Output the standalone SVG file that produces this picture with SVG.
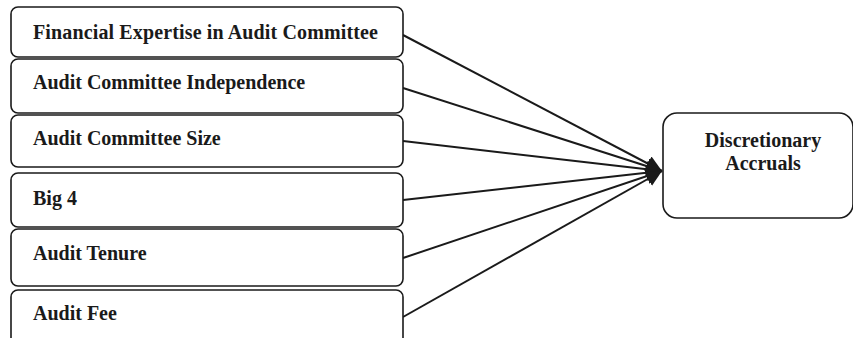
<svg xmlns="http://www.w3.org/2000/svg" width="853" height="338" viewBox="0 0 853 338">
<style>
.box{fill:#fff;stroke:#1a1a1a;stroke-width:1.6}
.lbl{font-family:"Liberation Serif","Times New Roman",serif;font-weight:bold;font-size:20px;fill:#1a1a1a}
.edge{stroke:#1a1a1a;stroke-width:2;fill:none;marker-end:url(#ah)}
</style>
<defs>
<marker id="ah" viewBox="0 0 10 10" refX="10" refY="5" markerWidth="8" markerHeight="8" markerUnits="strokeWidth" orient="auto">
<path d="M0,0 L10,5 L0,10 z" fill="#1a1a1a"/>
</marker>
</defs>
<rect width="853" height="338" fill="#fff"/>
<g id="connectors">
<line class="edge" x1="403" y1="35" x2="662" y2="171"/>
<line class="edge" x1="403" y1="88" x2="662" y2="171"/>
<line class="edge" x1="403" y1="141" x2="662" y2="171"/>
<line class="edge" x1="403" y1="200" x2="662" y2="171"/>
<line class="edge" x1="403" y1="258" x2="662" y2="171"/>
<line class="edge" x1="403" y1="317" x2="662" y2="171"/>
</g>
<g id="n1"><rect class="box" x="11" y="7" width="392" height="50" rx="7"/><text class="lbl" x="33" y="39" textLength="345">Financial Expertise in Audit Committee</text></g>
<g id="n2"><rect class="box" x="11" y="59" width="392" height="54" rx="7"/><text class="lbl" x="33" y="89">Audit Committee Independence</text></g>
<g id="n3"><rect class="box" x="11" y="115" width="392" height="52" rx="7"/><text class="lbl" x="33" y="145">Audit Committee Size</text></g>
<g id="n4"><rect class="box" x="11" y="173" width="392" height="54" rx="7"/><text class="lbl" x="33" y="205">Big 4</text></g>
<g id="n5"><rect class="box" x="11" y="229" width="392" height="57" rx="7"/><text class="lbl" x="33" y="260">Audit Tenure</text></g>
<g id="n6"><rect class="box" x="11" y="290" width="392" height="60" rx="7"/><text class="lbl" x="33" y="320">Audit Fee</text></g>
<g id="n7"><rect class="box" x="663" y="113" width="190" height="105" rx="14"/><text class="lbl" x="763" y="147" text-anchor="middle">Discretionary</text><text class="lbl" x="763" y="170" text-anchor="middle">Accruals</text></g>
</svg>
